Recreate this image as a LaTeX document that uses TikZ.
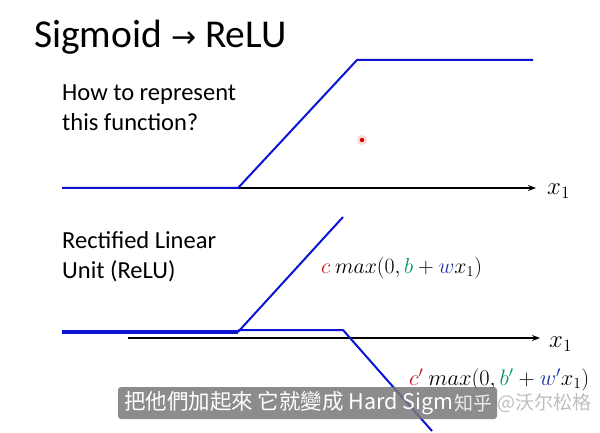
\documentclass[tikz,border=0pt]{standalone}
\usepackage{fontspec}
\setmainfont{Carlito}
\newfontfamily\cjktc{Noto Sans CJK TC}
\newfontfamily\cjksc{Noto Sans CJK SC}
\newfontfamily\symfont{DejaVu Sans}
\usetikzlibrary{arrows.meta,positioning}
\definecolor{lineblue}{RGB}{10,20,210}
\definecolor{cred}{RGB}{200,20,20}
\definecolor{cgreen}{RGB}{0,150,110}
\definecolor{cblue}{RGB}{30,50,170}
\definecolor{subgray}{RGB}{120,120,120}
\tikzset{
  ttl/.style={font=\fontsize{39.5}{44}\selectfont, anchor=west, inner sep=0pt},
  txt/.style={font=\fontsize{24.5}{30}\selectfont, anchor=north west, align=left, inner sep=0pt},
  fun/.style={lineblue, line width=2pt},
  axs/.style={-{Stealth[length=8pt,width=6pt]}, line width=1.3pt},
  xl/.style={font=\fontsize{20}{24}\selectfont, anchor=west, inner sep=0pt, scale=1.2, transform shape},
  fml/.style={font=\fontsize{20}{24}\selectfont, anchor=west, inner sep=0pt, scale=1.08, transform shape},
  subbox/.style={fill=subgray, fill opacity=0.85, rounded corners=3pt},
}
\begin{document}
\begin{tikzpicture}[x=1pt,y=-1pt]
\useasboundingbox[fill=white] (0,0) rectangle (600,433);
% title and texts
\node[ttl] (title) at (34,37) {Sigmoid {\symfont\fontsize{30}{30}\selectfont →} ReLU};
\node[txt] (q) at (62,85) {How to represent\\this function?};
\node[txt] (relu) at (62,231) {Rectified Linear\\Unit (ReLU)};
% hard sigmoid
\coordinate (s0) at (62,188);
\coordinate (s1) at (238,188);
\coordinate (s2) at (357,60);
\coordinate (s3) at (533,60);
\coordinate (ax1) at (536,188);
\draw[axs] (s1) -- (ax1);
\draw[fun] (s0) -- (s1) -- (s2) -- (s3);
\node[xl] (x1a) at (547,191) {$x_1$};
% pointer
\fill[red!30, opacity=0.5] (362,140) circle (5pt);
\fill[red!85!black] (362,140) circle (2.2pt);
% second axis
\coordinate (ax2s) at (128,338);
\coordinate (ax2e) at (540,338);
\draw[axs] (ax2s) -- (ax2e);
\node[xl] (x1b) at (549,344) {$x_1$};
% relu 1
\coordinate (r0) at (62,332);
\coordinate (r1) at (238,332);
\coordinate (r2) at (343,217);
\draw[fun, line width=4pt] (r0) -- (r1);
\draw[fun] (r1) -- (r2);
\node[fml, scale=0.97] (f1) at (321,268) {$\color{cred}c\ \color{black}max(0,\color{cgreen}b\color{black}+\color{cblue}w\color{black}x_1)$};
% relu 2
\coordinate (t0) at (238,330);
\coordinate (t1) at (343,330);
\coordinate (t2) at (432,431);
\draw[fun] (t0) -- (t1) -- (t2);
\node[fml] (f2) at (409,380) {$\color{cred}c'\ \color{black}max(0,\color{cgreen}b'\color{black}+\color{cblue}w'\color{black}x_1)$};
% subtitle
\fill[subbox] (118,387) rectangle (497,419);
\node[font=\cjktc\fontsize{21.5}{23}\selectfont, text=white, anchor=west, inner sep=0pt] (sub) at (124,403) {把他們加起來 它就變成 Hard Sigm};
\node[font=\cjksc\fontsize{19}{20}\selectfont, text=white!85!gray, anchor=west, inner sep=0pt] (zh) at (sub.east) {知乎};
\node[font=\cjksc\fontsize{19}{20}\selectfont, text=gray!50, anchor=west, inner sep=0pt, right=5pt of zh] (wm) {@沃尔松格};
\end{tikzpicture}
\end{document}
